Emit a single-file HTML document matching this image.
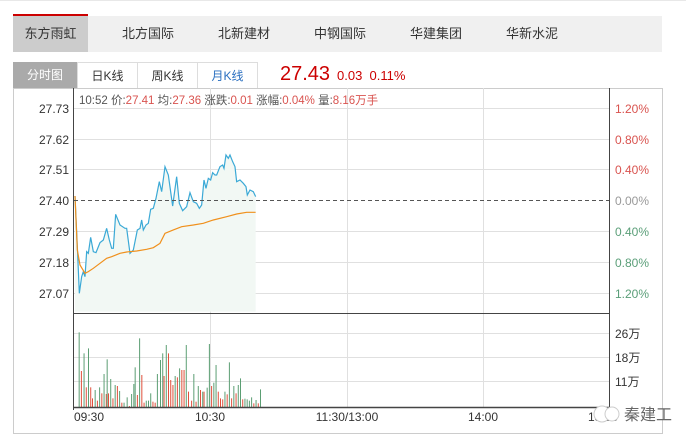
<!DOCTYPE html>
<html><head><meta charset="utf-8">
<style>
body{margin:0;width:686px;height:443px;background:#fff;overflow:hidden;font-family:"Liberation Sans","Noto Sans CJK SC",sans-serif;}
.a{position:absolute;white-space:nowrap}
</style></head><body>
<div class="a" style="left:0;top:0;width:686px;height:1px;background:#e8e8e8"></div>
<div class="a" style="left:13px;top:16px;width:649px;height:36px;background:#f0f0f0"></div>
<div class="a" style="left:13px;top:16px;width:75px;height:36px;background:#ccc"></div>
<div class="a" style="left:13px;top:14px;width:75px;height:2px;background:#c00"></div>
<div class="a" style="left:13px;top:16px;width:75px;line-height:36px;text-align:center;font-size:13px;color:#333">东方雨虹</div>
<div class="a" style="left:122px;top:16px;line-height:36px;font-size:13px;color:#333">北方国际</div>
<div class="a" style="left:218px;top:16px;line-height:36px;font-size:13px;color:#333">北新建材</div>
<div class="a" style="left:314px;top:16px;line-height:36px;font-size:13px;color:#333">中钢国际</div>
<div class="a" style="left:410px;top:16px;line-height:36px;font-size:13px;color:#333">华建集团</div>
<div class="a" style="left:506px;top:16px;line-height:36px;font-size:13px;color:#333">华新水泥</div>

<div class="a" style="left:13px;top:62px;width:64px;height:26px;background:#aaa;color:#fff;font-size:12px;line-height:26px;text-align:center">分时图</div>
<div class="a" style="left:77px;top:62px;width:59px;height:25px;border:1px solid #ddd;border-bottom:none;color:#333;font-size:12px;line-height:26px;text-align:center">日K线</div>
<div class="a" style="left:137px;top:62px;width:59px;height:25px;border:1px solid #ddd;border-bottom:none;color:#333;font-size:12px;line-height:26px;text-align:center">周K线</div>
<div class="a" style="left:197px;top:62px;width:59px;height:25px;border:1px solid #ddd;border-bottom:none;color:#2a6fc0;font-size:12px;line-height:26px;text-align:center">月K线</div>
<div class="a" style="left:280px;top:63px;font-size:20px;color:#c00">27.43</div>
<div class="a" style="left:337px;top:68px;font-size:13px;color:#c00">0.03&nbsp; 0.11%</div>

<svg class="a" style="left:0;top:0" width="686" height="443" xmlns="http://www.w3.org/2000/svg" font-family="Liberation Sans, Noto Sans CJK SC, sans-serif">
<rect x="13.5" y="88.5" width="649" height="345" fill="none" stroke="#ccc"/>
<rect x="10" y="434" width="660" height="9" fill="#fff"/>
<g stroke="#e0e0e0" stroke-width="1">
<line x1="74" y1="108.5" x2="609" y2="108.5"/><line x1="74" y1="139.5" x2="609" y2="139.5"/><line x1="74" y1="169.5" x2="609" y2="169.5"/>
<line x1="74" y1="231.5" x2="609" y2="231.5"/><line x1="74" y1="262.5" x2="609" y2="262.5"/><line x1="74" y1="293.5" x2="609" y2="293.5"/>
<line x1="74" y1="333.5" x2="609" y2="333.5"/><line x1="74" y1="357.5" x2="609" y2="357.5"/><line x1="74" y1="381.5" x2="609" y2="381.5"/>
<line x1="210.5" y1="88" x2="210.5" y2="407"/><line x1="347.5" y1="88" x2="347.5" y2="407"/><line x1="483.5" y1="88" x2="483.5" y2="407"/>
</g>
<g transform="translate(60,120) scale(0.3333)">
<polygon fill="#f2f8f4" points="45,575 45,228 52,380 58,520 65,470 70,455 75,470 80,395 85,400 92,352 100,395 108,398 120,368 130,360 140,325 148,360 155,385 160,385 167,283 180,315 195,325 200,325 210,400 220,390 232,330 240,325 245,300 250,330 258,315 265,310 272,268 280,265 288,235 298,185 305,215 315,140 325,165 338,258 350,170 358,250 368,272 380,260 390,218 400,245 410,250 418,265 425,255 432,180 438,205 445,175 452,180 458,158 465,165 470,165 480,140 488,135 492,145 498,105 505,115 510,105 518,125 525,140 530,185 540,180 550,190 558,200 562,225 570,210 580,215 587,230 587,575"/>
<polyline fill="none" stroke="#3ba9d6" stroke-width="1.2" vector-effect="non-scaling-stroke" points="45,228 52,380 58,520 65,470 70,455 75,470 80,395 85,400 92,352 100,395 108,398 120,368 130,360 140,325 148,360 155,385 160,385 167,283 180,315 195,325 200,325 210,400 220,390 232,330 240,325 245,300 250,330 258,315 265,310 272,268 280,265 288,235 298,185 305,215 315,140 325,165 338,258 350,170 358,250 368,272 380,260 390,218 400,245 410,250 418,265 425,255 432,180 438,205 445,175 452,180 458,158 465,165 470,165 480,140 488,135 492,145 498,105 505,115 510,105 518,125 525,140 530,185 540,180 550,190 558,200 562,225 570,210 580,215 587,230"/>
<polyline fill="none" stroke="#f0901c" stroke-width="1.2" vector-effect="non-scaling-stroke" points="45,228 52,390 60,435 75,460 85,455 100,445 120,430 140,415 155,410 180,400 200,396 230,393 260,388 280,383 300,370 315,340 340,330 365,320 400,315 430,310 460,300 500,290 530,282 560,277 587,277"/>
</g>
<line x1="74" y1="200.5" x2="609" y2="200.5" stroke="#555" stroke-dasharray="4,3"/>
<g id="vol" stroke-width="1"></g>
<line x1="73.5" y1="88" x2="73.5" y2="410" stroke="#444"/>
<line x1="609.5" y1="88" x2="609.5" y2="410" stroke="#444"/>
<line x1="74" y1="313.5" x2="609" y2="313.5" stroke="#444"/>
<line x1="74" y1="407.5" x2="609" y2="407.5" stroke="#444" stroke-width="1.5"/>
<g font-size="12" fill="#333" text-anchor="end">
<text x="69" y="113">27.73</text><text x="69" y="144">27.62</text><text x="69" y="174">27.51</text><text x="69" y="205">27.40</text>
<text x="69" y="236">27.29</text><text x="69" y="267">27.18</text><text x="69" y="298">27.07</text>
</g>
<g font-size="12">
<text x="615" y="113" fill="#d9534f">1.20%</text><text x="615" y="144" fill="#d9534f">0.80%</text><text x="615" y="174" fill="#d9534f">0.40%</text>
<text x="615" y="205" fill="#999">0.00%</text>
<text x="615" y="236" fill="#5a9e78">0.40%</text><text x="615" y="267" fill="#5a9e78">0.80%</text><text x="615" y="298" fill="#5a9e78">1.20%</text>
<text x="615" y="338" fill="#333">26万</text><text x="615" y="362" fill="#333">18万</text><text x="615" y="386" fill="#333">11万</text>
</g>
<text x="79" y="104" font-size="11.5" fill="#555">10:52 价:<tspan fill="#d9534f">27.41</tspan> 均:<tspan fill="#d9534f">27.36</tspan> 涨跌:<tspan fill="#d9534f">0.01</tspan> 涨幅:<tspan fill="#d9534f">0.04%</tspan> 量:<tspan fill="#d9534f">8.16万手</tspan></text>
<g font-size="12" fill="#333">
<text x="74" y="421">09:30</text><text x="210" y="421" text-anchor="middle">10:30</text>
<text x="347" y="421" text-anchor="middle">11:30/13:00</text><text x="483" y="421" text-anchor="middle">14:00</text>
<text x="588" y="421">15:00</text>
</g>
<circle cx="602" cy="414" r="8" fill="#fff" stroke="#ccc"/>
<circle cx="612" cy="414" r="7" fill="#fff" stroke="#ccc"/>
<text x="624" y="420" font-size="16" fill="#666">秦建工</text>
</svg>
<script>
var d="g177:67 r182:183 g188:130 r193:232 g198:115 r203:232 r207:265 g213:240 r218:272 g223:232 r228:250 g233:192 r238:252 g240:148 r243:250 g248:207 r253:265 g258:225 r263:228 g268:243 r273:278 g278:278 g285:262 r290:288 g295:252 g300:222 g303:172 r308:255 g313:85 r318:195 r323:278 g328:272 g333:272 g338:250 r343:275 r348:278 g353:192 g360:150 g365:130 r368:198 g373:105 r378:130 r383:210 r388:225 g393:198 r398:202 g403:175 r408:180 r413:180 g418:105 r423:245 r430:272 g435:192 r440:275 g445:228 r450:240 g455:245 r458:245 g465:233 g470:102 r475:228 g480:218 g485:165 r490:245 r495:265 r500:268 g505:245 r510:253 g515:157 r520:265 g525:228 r530:250 g535:225 g540:205 r545:268 g550:266 g555:268 g560:272 g565:262 r570:280 g575:270 r580:280 g585:238".split(" ");
var g=document.getElementById("vol"),s="";
d.forEach(function(t){var c=t[0]=="g"?"#5b9e73":"#e0503c";var p=t.slice(1).split(":");var x=(+p[0])/2.25+0.5,y=310+(+p[1])/3;
s+='<line x1="'+x+'" x2="'+x+'" y1="'+y+'" y2="407" stroke="'+c+'"/>';});
g.innerHTML=s;
</script>
</body></html>
